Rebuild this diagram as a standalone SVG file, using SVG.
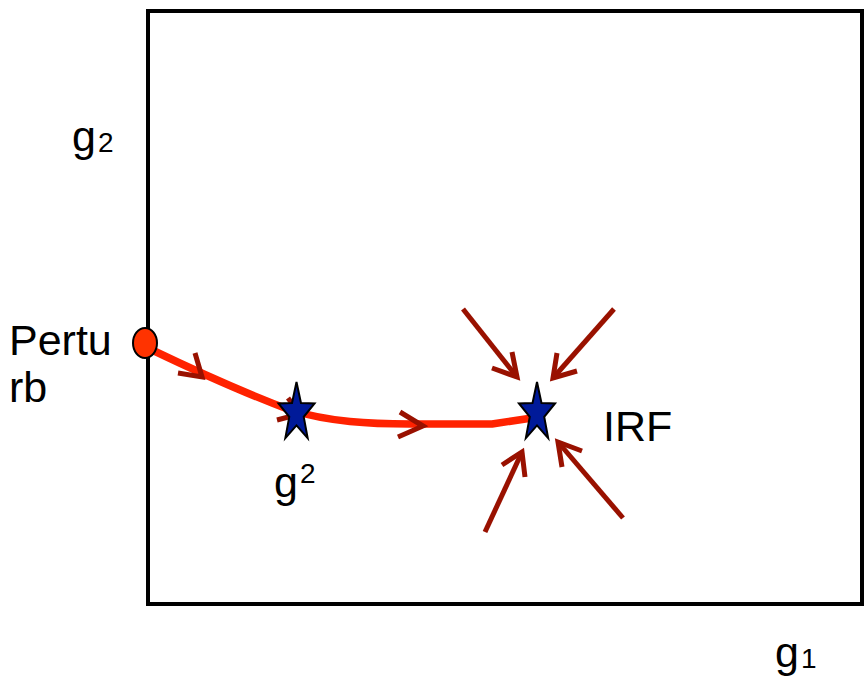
<svg xmlns="http://www.w3.org/2000/svg" width="866" height="687" viewBox="0 0 866 687">
<style>
text{font-family:"Liberation Sans",Arial,sans-serif;fill:#000}
.big{font-size:43px}
.sub{font-size:28px}
.arr{fill:none;stroke:#991100;stroke-width:5;stroke-linecap:butt;stroke-linejoin:miter}
.path{fill:none;stroke:#ff2200;stroke-width:7.5;stroke-linejoin:round}
.star{fill:#001a99;stroke:#000;stroke-width:2;stroke-linejoin:miter}
</style>
<defs>
<polygon id="starShape" class="star" points="0,-31 4.47,-10.03 18.07,-9.58 7.23,3.83 11.17,25.08 0,12.4 -11.17,25.08 -7.23,3.83 -18.07,-9.58 -4.47,-10.03"/>
</defs>
<g id="frame">
<rect x="148" y="11" width="714" height="593" fill="none" stroke="#000" stroke-width="4"/>
</g>
<g id="labels">
<text class="big" x="72" y="151">g</text><text class="sub" x="98" y="152">2</text>
<text class="big" x="775" y="667">g</text><text class="sub" x="801" y="668">1</text>
<text class="big" x="9" y="355">Pertu</text>
<text class="big" x="9" y="402">rb</text>
</g>
<g id="connectors">
<path class="path" d="M150,349 C200,373 250,395 290,410 C330,422 370,424 410,424 L492,424 L532,418"/>
<polyline class="arr" points="195,353 202,377 178,373"/>
<polyline class="arr" points="400,412 423,426 398,437"/>
<polyline class="arr" points="288,398 300,414 277,420"/>
<line class="arr" x1="463" y1="309" x2="517" y2="377"/>
<polyline class="arr" points="512,352 517,377 492,368"/>
<line class="arr" x1="614" y1="309" x2="553" y2="378"/>
<polyline class="arr" points="557,353 553,378 577,371"/>
<line class="arr" x1="485" y1="532" x2="522" y2="452"/>
<polyline class="arr" points="502,465 522,452 525,477"/>
<line class="arr" x1="623" y1="518" x2="558" y2="442"/>
<polyline class="arr" points="582,451 558,442 562,467"/>
</g>
<g id="perturb">
<ellipse cx="145" cy="343" rx="12" ry="15" fill="#ff3300" stroke="#000" stroke-width="2"/>
</g>
<g id="g2star">
<use href="#starShape" transform="translate(296.5,413)"/>
<text class="big" x="274" y="497">g</text><text class="sub" x="300" y="483">2</text>
</g>
<g id="irf">
<use href="#starShape" transform="translate(537,413)"/>
<text class="big" x="603" y="441">IRF</text>
</g>
</svg>
